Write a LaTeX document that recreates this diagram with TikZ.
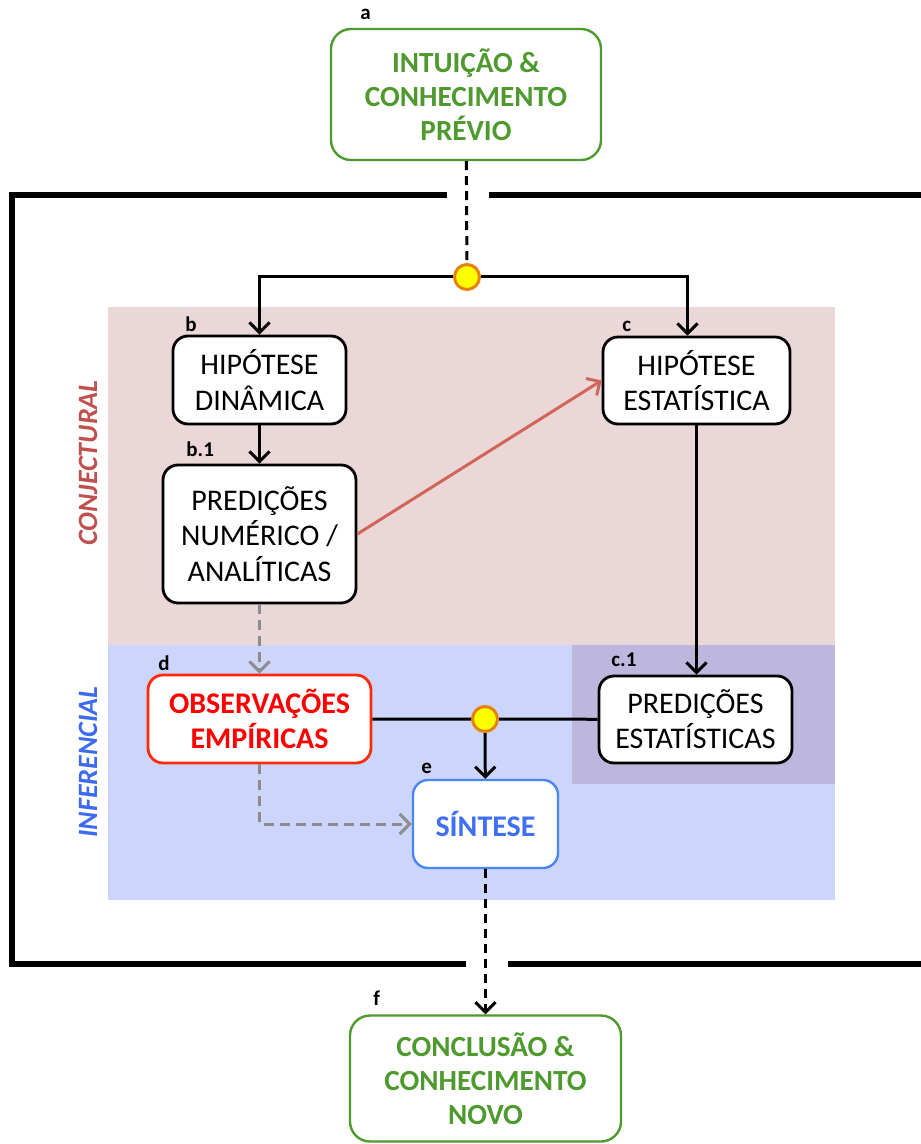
\documentclass[tikz,border=0pt]{standalone}
\usepackage{fontspec}
\setmainfont{Carlito}
\usepackage{tikz}
\usetikzlibrary{arrows.meta,positioning,calc}
\definecolor{ink}{HTML}{000000}
\definecolor{leafgreen}{HTML}{4E9A2E}
\definecolor{obsred}{HTML}{FF0000}
\definecolor{obsedge}{HTML}{FF2A0A}
\definecolor{synblue}{HTML}{3F6FF2}
\definecolor{synedge}{HTML}{4A86F2}
\definecolor{conjpink}{HTML}{EBD7D7}
\definecolor{infblue}{HTML}{CCD6FC}
\definecolor{statpurple}{HTML}{BDB7DE}
\definecolor{conjred}{HTML}{C0504D}
\definecolor{infertext}{HTML}{3D6BF0}
\definecolor{linkred}{HTML}{D0655A}
\definecolor{dashgray}{HTML}{8C8C8C}
\definecolor{knotfill}{HTML}{FFFF00}
\definecolor{knotedge}{HTML}{E6800E}

\begin{document}
\begin{tikzpicture}[x=0.5pt,y=-0.5pt]
    \tikzset{
      stage/.style={rounded corners=7.5pt,draw=ink,line width=1.4pt,fill=white,align=center,font=\fontsize{15}{17.6}\selectfont,inner sep=1pt},
      knowledge/.style={stage,draw=leafgreen,text=leafgreen,line width=1.2pt,rounded corners=10pt,font=\fontsize{14.6}{17}\selectfont\bfseries},
      observed/.style={stage,draw=obsedge,text=obsred,font=\fontsize{15}{17.6}\selectfont\bfseries},
      synthesis/.style={stage,draw=synedge,text=synblue,line width=1.2pt,font=\fontsize{15}{17.6}\selectfont\bfseries},
      tag/.style={anchor=base west,inner sep=0pt,font=\fontsize{10.5}{12}\selectfont\bfseries},
      sidetitle/.style={rotate=90,inner sep=0pt,font=\fontsize{14}{16}\selectfont\bfseries\itshape},
      knot/.style={circle,fill=knotfill,draw=knotedge,line width=1.5pt,minimum size=12.5pt,inner sep=0pt},
      arrow/.style={-{Straight Barb[length=5pt,width=10pt]},draw=ink,line width=1.5pt},
      link/.style={draw=ink,line width=1.5pt},
      frame/.style={draw=ink,line width=2.8pt},
      graydash/.style={-{Straight Barb[length=5pt,width=10pt]},draw=dashgray,line width=1.5pt,dash pattern=on 5pt off 3pt},
      blackdash/.style={draw=ink,line width=1.5pt,dash pattern=on 4.5pt off 3pt}
    }
    \useasboundingbox (0,0) rectangle (920,1144);
    % fases
    \fill[conjpink] (108,307) rectangle (835,645);
    \fill[infblue] (108,645) rectangle (835,900);
    \fill[statpurple] (572,645) rectangle (835,784);
    \node[sidetitle,text=conjred] (conj) at (88,463) {CONJECTURAL};
    \node[sidetitle,text=infertext] (infer) at (88,762) {INFERENCIAL};
    % moldura
    \draw[frame] (447,195) -- (12,195) -- (12,964) -- (466,964);
    \draw[frame] (489,195) -- (925,195);
    \draw[frame] (508,964) -- (925,964);
    % etapas
    \node[knowledge,minimum width=135pt,minimum height=65.5pt] (intuicao) at (466,94.5) {INTUIÇÃO \&\\CONHECIMENTO\\PRÉVIO};
    \node[knot] (juncA) at (467,277) {};
    \node[stage,minimum width=86.5pt,minimum height=44pt] (hipdin) at (259.5,380) {HIPÓTESE\\DINÂMICA};
    \node[stage,minimum width=96.5pt,minimum height=69pt] (prednum) at (259.5,534) {PREDIÇÕES\\NUMÉRICO /\\ANALÍTICAS};
    \node[stage,minimum width=93.5pt,minimum height=43.5pt] (hipest) at (696.5,380.5) {HIPÓTESE\\ESTATÍSTICA};
    \node[stage,minimum width=96.5pt,minimum height=43.5pt] (predest) at (695.5,719.5) {PREDIÇÕES\\ESTATÍSTICAS};
    \node[observed,minimum width=111.5pt,minimum height=44pt] (obs) at (259.5,719) {OBSERVAÇÕES\\EMPÍRICAS};
    \node[knot] (juncB) at (485,719) {};
    \node[synthesis,minimum width=72.5pt,minimum height=44pt] (sintese) at (485.5,824) {SÍNTESE};
    \node[knowledge,minimum width=135.5pt,minimum height=63pt] (conclusao) at (485.5,1078.5) {CONCLUSÃO \&\\CONHECIMENTO\\NOVO};
    % rótulos
    \node[tag] (tagA) at (360,20) {a};
    \node[tag] (tagB) at (185,331) {b};
    \node[tag] (tagB1) at (186,456) {b.1};
    \node[tag] (tagC) at (622,331) {c};
    \node[tag] (tagC1) at (611,666) {c.1};
    \node[tag] (tagD) at (158,670) {d};
    \node[tag] (tagE) at (421,773) {e};
    \node[tag] (tagF) at (373,1005) {f};
    % ligações
    \draw[blackdash] (intuicao) -- (juncA);
    \draw[arrow] (juncA) -| (hipdin);
    \draw[arrow] (juncA) -| ([xshift=-4.5pt]hipest.north);
    \draw[arrow] (hipdin) -- (prednum);
    \draw[arrow,draw=linkred] (prednum.east) -- (hipest.west);
    \draw[arrow] (hipest.south) -- (hipest.south |- predest.north);
    \draw[graydash] (prednum) -- (obs);
    \draw[graydash] (obs.south) |- (sintese.west);
    \draw[link] (obs) -- (juncB) -- (predest);
    \draw[arrow] (juncB) -- (sintese);
    \draw[blackdash,-{Straight Barb[length=5pt,width=10pt]}] (sintese) -- (conclusao);
  \end{tikzpicture}
\end{document}
